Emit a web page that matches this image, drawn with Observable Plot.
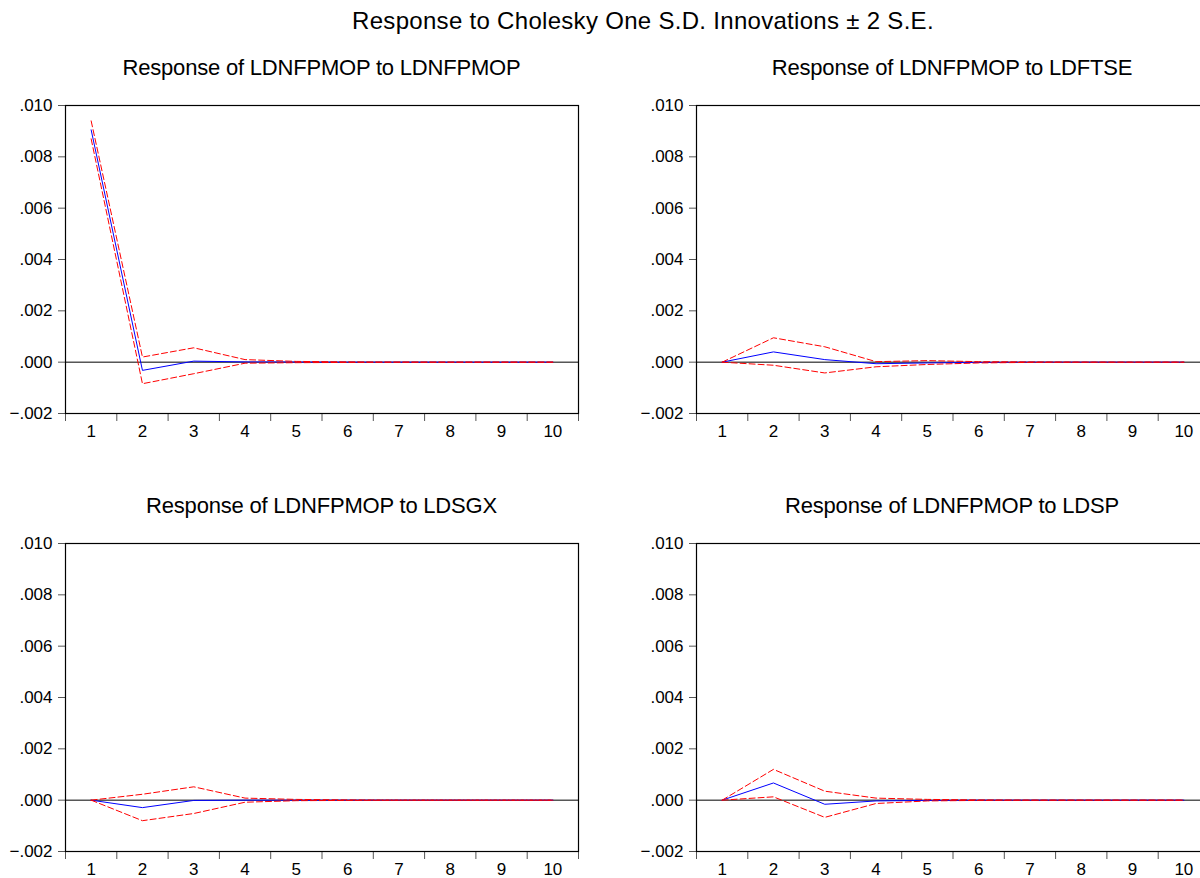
<!DOCTYPE html>
<html>
<head>
<meta charset="utf-8">
<script src="https://cdn.jsdelivr.net/npm/d3@7"></script>
<script src="https://cdn.jsdelivr.net/npm/@observablehq/plot@0.6"></script>
<style>
  html, body { margin: 0; padding: 0; background: #fff; overflow: hidden; }
  #root { position: relative; width: 1200px; height: 878px; overflow: hidden; font-family: "Liberation Sans", Arial, sans-serif; color: #000; }
  .ttl { position: absolute; white-space: nowrap; transform: translateX(-50%); line-height: 1; }
  .panel { position: absolute; }
  .panel svg { overflow: visible; max-width: none !important; }
</style>
</head>
<body>
<div id="root"></div>
<script>
// ---- data ----
const mainTitle = "Response to Cholesky One S.D. Innovations \u00b1 2 S.E.";
const periods = [1, 2, 3, 4, 5, 6, 7, 8, 9, 10];
const yTicks = [-0.002, 0.000, 0.002, 0.004, 0.006, 0.008, 0.010];

const titleSelf = "Response of LDNFPMOP to LDNFPMOP";
const respSelf  = [0.00905, -0.00032, 0.00004, 0.00001, 0.000005, 0, 0, 0, 0, 0];
const upperSelf = [0.0094, 0.0002, 0.00056, 0.00010, 0.00003, 0.00001, 0, 0, 0, 0];
const lowerSelf = [0.0087, -0.00084, -0.00045, -0.00004, -0.00002, -0.00001, 0, 0, 0, 0];

const titleFTSE = "Response of LDNFPMOP to LDFTSE";
const respFTSE  = [0, 0.0004, 0.0001, -0.00006, -0.00003, -0.00001, 0, 0, 0, 0];
const upperFTSE = [0, 0.00095, 0.0006, 0.00002, 0.00006, 0.00002, 0.00001, 0, 0, 0];
const lowerFTSE = [0, -0.00012, -0.00042, -0.00018, -0.00009, -0.00003, -0.00001, 0, 0, 0];

const titleSGX = "Response of LDNFPMOP to LDSGX";
const respSGX  = [0, -0.00029, -0.00001, 0, 0, 0, 0, 0, 0, 0];
const upperSGX = [0, 0.00023, 0.00052, 0.00008, 0.00003, 0.00001, 0, 0, 0, 0];
const lowerSGX = [0, -0.0008, -0.00052, -0.00008, -0.00002, -0.00001, 0, 0, 0, 0];

const titleSP = "Response of LDNFPMOP to LDSP";
const respSP  = [0, 0.00067, -0.00016, -0.00003, -0.00001, 0, 0, 0, 0, 0];
const upperSP = [0, 0.0012, 0.00035, 0.00008, 0.00003, 0.00001, 0, 0, 0, 0];
const lowerSP = [0, 0.00013, -0.00067, -0.00013, -0.00003, -0.00001, 0, 0, 0, 0];

// ---- layout ----
const root = document.getElementById("root");
const FONT = '"Liberation Sans", Arial, sans-serif';

function addTitle(text, cx, top, size, spacing) {
  const d = document.createElement("div");
  d.className = "ttl";
  d.textContent = text;
  d.style.left = cx + "px";
  d.style.top = top + "px";
  d.style.fontSize = size + "px";
  if (spacing) d.style.letterSpacing = spacing + "px";
  root.appendChild(d);
}

const yFmt = v => d3.format(".3f")(v).replace("0.", ".");
const edges = [periods[0] - 0.5, ...periods.map(p => p + 0.5)];

function panel(resp, upper, lower, left, top, marginLeft) {
  const frameW = 513, frameH = 308;
  const mt = 15, mr = 10, mb = 35;
  const rows = periods.map((p, i) => ({p, r: resp[i], u: upper[i], l: lower[i]}));
  const chart = Plot.plot({
    width: marginLeft + frameW + mr,
    height: mt + frameH + mb,
    marginLeft, marginRight: mr, marginTop: mt, marginBottom: mb,
    style: {fontFamily: FONT, fontSize: "17px", color: "#000", background: "transparent", overflow: "visible", maxWidth: "none"},
    x: {domain: [edges[0], edges[edges.length - 1]], axis: null},
    y: {domain: [yTicks[0], yTicks[yTicks.length - 1]], axis: null},
    marks: [
      Plot.axisY(yTicks, {tickSize: 7, tickPadding: 6, tickFormat: yFmt, stroke: "#555", fontSize: 17, label: null}),
      Plot.axisX(edges, {tickSize: 8, tickFormat: () => "", stroke: "#555", label: null}),
      Plot.axisX(periods, {tickSize: 0, tickPadding: 11, tickFormat: d => String(d), fontSize: 17, label: null}),
      Plot.ruleY([0], {stroke: "#000", strokeWidth: 1}),
      Plot.line(rows, {x: "p", y: "r", stroke: "#0000ff", strokeWidth: 1}),
      Plot.line(rows, {x: "p", y: "u", stroke: "#ff0000", strokeWidth: 1, strokeDasharray: "6,3"}),
      Plot.line(rows, {x: "p", y: "l", stroke: "#ff0000", strokeWidth: 1, strokeDasharray: "6,3"}),
      Plot.frame({stroke: "#000", strokeWidth: 1.2})
    ]
  });
  const wrap = document.createElement("div");
  wrap.className = "panel";
  wrap.style.left = left + "px";
  wrap.style.top = top + "px";
  wrap.style.width = (marginLeft + frameW + mr) + "px";
  wrap.appendChild(chart);
  root.appendChild(wrap);
}

addTitle(mainTitle, 643, 9, 24, 0.3);
addTitle(titleSelf, 321.5, 57, 22, -0.2);
addTitle(titleFTSE, 952, 57, 22, -0.2);
addTitle(titleSGX, 321.5, 495, 22, -0.2);
addTitle(titleSP, 952, 495, 22, -0.2);

panel(respSelf, upperSelf, lowerSelf, 0, 90, 65);
panel(respFTSE, upperFTSE, lowerFTSE, 620, 90, 76);
panel(respSGX, upperSGX, lowerSGX, 0, 528, 65);
panel(respSP, upperSP, lowerSP, 620, 528, 76);
</script>
</body>
</html>
